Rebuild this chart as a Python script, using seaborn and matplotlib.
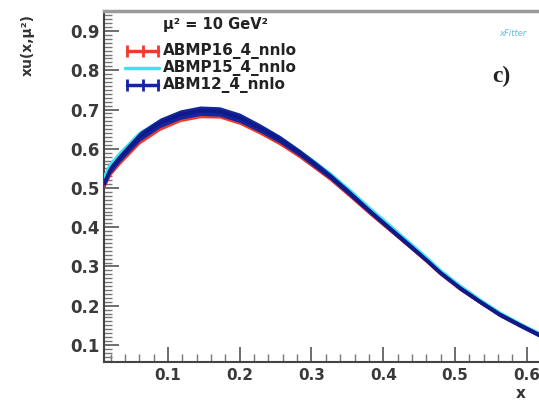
import numpy as np
import pandas as pd
import matplotlib
matplotlib.use("Agg")
import matplotlib.pyplot as plt
from matplotlib.lines import Line2D
from matplotlib.ticker import MultipleLocator
import seaborn as sns

# xu(x, mu^2) at mu^2 = 10 GeV^2 for three ABM PDF sets
x_vals = [0.011, 0.020, 0.033, 0.061, 0.089, 0.117, 0.145, 0.172, 0.200, 0.228,
          0.256, 0.284, 0.307, 0.326, 0.353, 0.381, 0.409, 0.437, 0.461, 0.479,
          0.507, 0.535, 0.562, 0.590, 0.617]
abmp16 = [0.505, 0.538, 0.566, 0.619, 0.653, 0.675, 0.685, 0.684, 0.668, 0.643,
          0.615, 0.581, 0.550, 0.524, 0.482, 0.437, 0.394, 0.351, 0.313, 0.283,
          0.243, 0.209, 0.177, 0.150, 0.125]
abmp16_err = [0.006, 0.006, 0.006, 0.006, 0.006, 0.006, 0.006, 0.006, 0.006, 0.006,
              0.006, 0.005, 0.005, 0.005, 0.005, 0.005, 0.005, 0.005, 0.004, 0.004,
              0.004, 0.004, 0.004, 0.004, 0.004]
abmp15 = [0.524, 0.558, 0.586, 0.638, 0.669, 0.688, 0.697, 0.695, 0.680, 0.655,
          0.627, 0.592, 0.561, 0.535, 0.493, 0.447, 0.403, 0.358, 0.320, 0.289,
          0.249, 0.213, 0.181, 0.153, 0.128]
abm12 = [0.512, 0.548, 0.577, 0.632, 0.666, 0.687, 0.697, 0.695, 0.679, 0.653,
         0.624, 0.589, 0.557, 0.530, 0.487, 0.441, 0.397, 0.353, 0.315, 0.285,
         0.245, 0.210, 0.178, 0.151, 0.126]
abm12_err = [0.011, 0.011, 0.011, 0.012, 0.012, 0.012, 0.012, 0.012, 0.012, 0.011,
             0.010, 0.009, 0.009, 0.008, 0.008, 0.007, 0.007, 0.007, 0.006, 0.006,
             0.006, 0.006, 0.006, 0.006, 0.006]

labels = ["ABMP16_4_nnlo", "ABMP15_4_nnlo", "ABM12_4_nnlo"]
scale_title = "μ² = 10 GeV²"
c_red, c_cyan, c_blue = "#ee3b2b", "#3fe0f0", "#16259c"

sns.set_theme(style="white")
plt.rcParams["font.family"] = ["DejaVu Sans"]

W, H = 539, 401
fig = plt.figure(figsize=(W / 100, H / 100), dpi=100)
ax = fig.add_axes([104 / W, 39 / H, 1 - 104 / W, 351 / H])

df = pd.DataFrame({"x": x_vals, "abmp16": abmp16, "abmp15": abmp15, "abm12": abm12})
xs = np.array(x_vals)

# ABMP16 band
ax.fill_between(xs, np.array(abmp16) - np.array(abmp16_err),
                np.array(abmp16) + np.array(abmp16_err), color=c_red, lw=0, zorder=2)
sns.lineplot(data=df, x="x", y="abmp16", color=c_red, lw=2.5, ax=ax, zorder=3)
# ABMP15 central
sns.lineplot(data=df, x="x", y="abmp15", color=c_cyan, lw=3.0, ax=ax, zorder=4)
# ABM12 band
ax.fill_between(xs, np.array(abm12) - np.array(abm12_err),
                np.array(abm12) + np.array(abm12_err), color=c_blue, lw=0, zorder=5)
sns.lineplot(data=df, x="x", y="abm12", color="#0d1a8a", lw=2.5, ax=ax, zorder=6)

ax.set_xlim(0.0109, 0.617)
ax.set_ylim(0.0566, 0.951)
ax.set_xlabel("")
ax.set_ylabel("")

ax.xaxis.set_minor_locator(MultipleLocator(0.02))
ax.yaxis.set_minor_locator(MultipleLocator(0.01))
ax.set_xticks([0.1, 0.2, 0.3, 0.4, 0.5, 0.6])
ax.set_xticklabels(["0.1", "0.2", "0.3", "0.4", "0.5", "0.6"], fontweight="bold")
ax.set_yticks([0.1, 0.2, 0.3, 0.4, 0.5, 0.6, 0.7, 0.8, 0.9])
ax.set_yticklabels(["0.1", "0.2", "0.3", "0.4", "0.5", "0.6", "0.7", "0.8", "0.9"],
                   fontweight="bold")
ax.tick_params(axis="both", which="major", direction="in", length=11, width=1.2,
               color="#555555", labelcolor="#3a3a3a")
ax.tick_params(axis="x", which="major", pad=4, labelsize=11)
ax.tick_params(axis="y", which="major", pad=3, labelsize=12)
ax.tick_params(axis="both", which="minor", direction="in", length=6, width=1.0,
               color="#777777")
ax.tick_params(bottom=True, left=True, which="both")

for side in ["left", "bottom"]:
    ax.spines[side].set_color("#444444")
    ax.spines[side].set_linewidth(1.5)
ax.spines["top"].set_color("#9a9a9a")
ax.spines["top"].set_linewidth(2.5)
ax.spines["right"].set_visible(False)

# axis titles
fig.text(28 / W, 1 - 14 / H, "xu(x,μ²)", rotation=90, ha="center", va="top",
         fontsize=10, fontweight="bold", color="#333333")
fig.text(521 / W, 1 - 393 / H, "x", ha="center", va="center",
         fontsize=11, fontweight="bold", color="#333333")

# legend, drawn entry by entry
fig.text(163 / W, 1 - 25 / H, scale_title, ha="left", va="center",
         fontsize=10.5, fontweight="bold", color="#222222")
rows = [51, 68, 85]
styles = [dict(color=c_red, lw=2.5, marker="|", markersize=9, markeredgewidth=2),
          dict(color=c_cyan, lw=2.5),
          dict(color=c_blue, lw=2.5, marker="|", markersize=9, markeredgewidth=2)]
for yrow, lab, st in zip(rows, labels, styles):
    yy = 1 - yrow / H
    if "marker" in st:
        fig.add_artist(Line2D([127 / W, 143 / W, 158 / W], [yy, yy, yy], **st))
    else:
        fig.add_artist(Line2D([125 / W, 159 / W], [yy, yy], **st))
    fig.text(163 / W, yy, lab, ha="left", va="center", fontsize=11,
             fontweight="bold", color="#222222")

# panel tag and logo
fig.text(501 / W, 1 - 76 / H, "c)", ha="center", va="center", fontsize=17,
         fontweight="bold", family="Liberation Serif", color="#222222")
fig.text(513 / W, 1 - 33 / H, "xFitter", ha="center", va="center", fontsize=6,
         style="italic", color="#66b8e8")

fig.savefig("out.png", dpi=100)
